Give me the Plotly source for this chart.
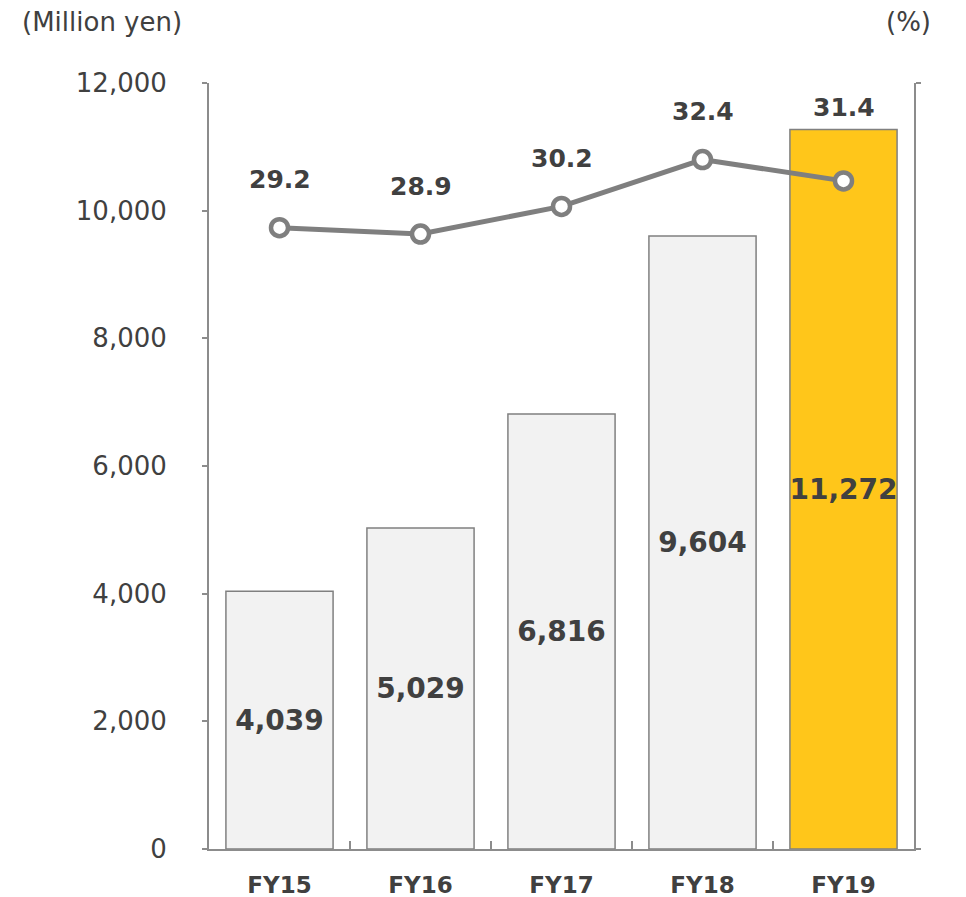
import plotly.graph_objects as go
from plotly.subplots import make_subplots

categories = ["FY15", "FY16", "FY17", "FY18", "FY19"]
sales = [4039, 5029, 6816, 9604, 11272]
ratio = [29.2, 28.9, 30.2, 32.4, 31.4]
bar_colors = ["#F2F2F2", "#F2F2F2", "#F2F2F2", "#F2F2F2", "#FFC61A"]

FONT = "DejaVu Sans"
TXT = "#404040"
AX = "#8C8C8C"

# page body has an 8px default margin; layout coordinates are offset by it
OFF = 8
W, H = 950, 889
L, T = 209 - OFF, 83 - OFF
R = W - (914 - OFF)
B = H - (849 - OFF)
pw, ph = W - L - R, H - T - B

fig = make_subplots(specs=[[{"secondary_y": True}]])

fig.add_trace(go.Bar(
    x=categories, y=sales, width=0.76,
    marker=dict(color=bar_colors, line=dict(color="#808080", width=1.5)),
    text=[f"{v:,}" for v in sales], textposition="inside", textangle=0,
    insidetextanchor="middle", constraintext="none",
    textfont=dict(family=FONT, size=28, color=TXT, weight="bold"),
    showlegend=False, hoverinfo="skip"), secondary_y=False)

fig.add_trace(go.Scatter(
    x=categories, y=ratio, mode="lines+markers",
    line=dict(color="#7F7F7F", width=5),
    marker=dict(size=17, color="white", line=dict(color="#7F7F7F", width=4.5)),
    showlegend=False, hoverinfo="skip"), secondary_y=True)

for i, (c, r) in enumerate(zip(categories, ratio)):
    # last label is lifted above the tall bar, as in the original
    shift = 73 if i == len(categories) - 1 else 48
    fig.add_annotation(x=c, y=r, yref="y2", text=f"<b>{r:.1f}</b>", showarrow=False,
                       yshift=shift, font=dict(family=FONT, size=25, color=TXT))

fig.add_annotation(x=(12 - L) / pw, y=(H - B - 14) / ph, xref="paper", yref="paper",
                   text="(Million yen)", showarrow=False, xanchor="left", yanchor="middle",
                   font=dict(family=FONT, size=26, color=TXT))
fig.add_annotation(x=(925 - L) / pw, y=(H - B - 14) / ph, xref="paper", yref="paper",
                   text="(%)", showarrow=False, xanchor="right", yanchor="middle",
                   font=dict(family=FONT, size=26, color=TXT))

fig.update_layout(
    width=W, height=H, margin=dict(l=L, r=R, t=T, b=B, autoexpand=False),
    plot_bgcolor="white", paper_bgcolor="white",
    font=dict(family=FONT, color=TXT),
    uniformtext=dict(minsize=28, mode="show"),
)
fig.update_xaxes(
    type="category", domain=[0, 1], showgrid=False, showline=True, linecolor=AX, linewidth=2,
    ticks="inside", tickson="boundaries", ticklen=8, tickcolor=AX, tickwidth=2,
    tickfont=dict(family=FONT, size=23, color=TXT, weight="bold"), ticklabelstandoff=14,
    automargin=False,
)
fig.update_yaxes(
    range=[0, 12000], dtick=2000, tickformat=",", showgrid=False, zeroline=False,
    showline=True, linecolor=AX, linewidth=2, ticks="outside", ticklen=5, tickcolor=AX, tickwidth=2,
    tickfont=dict(family=FONT, size=26, color=TXT), ticklabelstandoff=30, automargin=False,
    secondary_y=False,
)
fig.update_yaxes(
    range=[0, 36], dtick=36, showgrid=False, zeroline=False, showticklabels=False,
    showline=True, linecolor=AX, linewidth=2, ticks="outside", ticklen=5, tickcolor=AX, tickwidth=2,
    automargin=False, secondary_y=True,
)

fig.write_html("out.html")
